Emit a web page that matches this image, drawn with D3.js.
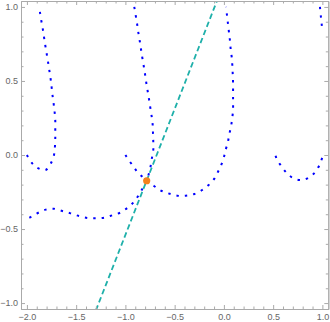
<!DOCTYPE html>
<html>
<head>
<meta charset="utf-8">
<script src="https://cdn.jsdelivr.net/npm/d3@7"></script>
<style>
  body { margin: 0; background: #fff; }
  .tick text { font-family: "Liberation Sans", Arial, sans-serif; font-size: 9px; fill: #666; }
</style>
</head>
<body>
<div id="chart"></div>
<script>
// contour curves (x, y pairs)
const curveA = [[-2.0,0.0],[-1.952,-0.052],[-1.895,-0.086],[-1.81,-0.101],[-1.759,-0.059],[-1.725,0.0],
  [-1.715,0.061],[-1.712,0.117],[-1.712,0.174],[-1.712,0.232],[-1.718,0.286],[-1.728,0.344],[-1.739,0.398],
  [-1.749,0.457],[-1.759,0.513],[-1.773,0.574],[-1.786,0.63],[-1.8,0.687],[-1.814,0.743],[-1.827,0.799],
  [-1.84,0.856],[-1.855,0.912],[-1.868,0.968],[-1.873,1.0]];

const curveB = [[-0.91,1.0],[-0.896,0.945],[-0.882,0.889],[-0.869,0.828],[-0.855,0.772],[-0.842,0.716],
  [-0.829,0.66],[-0.814,0.601],[-0.801,0.547],[-0.788,0.488],[-0.774,0.432],[-0.76,0.376],[-0.747,0.319],
  [-0.733,0.259],[-0.723,0.203],[-0.72,0.147],[-0.717,0.09],[-0.717,0.034],[-0.733,-0.029],[-0.747,-0.086],
  [-0.768,-0.14],[-0.784,-0.174],[-0.818,-0.216],[-0.859,-0.265],[-0.92,-0.322],[-0.977,-0.356],
  [-1.055,-0.39],[-1.133,-0.407],[-1.215,-0.423],[-1.302,-0.427],[-1.387,-0.425],[-1.472,-0.412],
  [-1.556,-0.394],[-1.641,-0.378],[-1.726,-0.363],[-1.81,-0.369],[-1.885,-0.39],[-1.962,-0.419],[-2.0,-0.432]];

const curveC = [[-1.0,0.0],[-0.93,-0.068],[-0.875,-0.117],[-0.818,-0.153],[-0.784,-0.174],[-0.71,-0.209],
  [-0.639,-0.241],[-0.564,-0.259],[-0.473,-0.275],[-0.388,-0.275],[-0.3,-0.263],[-0.225,-0.238],
  [-0.158,-0.205],[-0.097,-0.16],[-0.056,-0.108],[-0.022,-0.059],[0.004,-0.005],[0.012,0.022],
  [0.039,0.083],[0.055,0.14],[0.073,0.196],[0.086,0.255],[0.093,0.311],[0.093,0.367],[0.093,0.423],
  [0.093,0.484],[0.09,0.54],[0.086,0.601],[0.08,0.657],[0.069,0.714],[0.062,0.77],[0.052,0.826],
  [0.042,0.883],[0.032,0.939],[0.022,1.0]];

const curveD = [[0.975,1.0],[0.984,0.939],[0.993,0.882],[1.0,0.84]];

const curveE = [[0.525,-0.005],[0.537,-0.029],[0.584,-0.076],[0.641,-0.124],[0.705,-0.157],[0.794,-0.169],
  [0.875,-0.147],[0.936,-0.107],[0.977,-0.058],[1.0,-0.014]];

const curves = [curveA, curveB, curveC, curveD, curveE];

// dashed line and the marked point
const lineEnds = [[-1.30, -1.05], [-0.065, 1.05]];
const root = [-0.784, -0.174];

const xTicks = [-2.0, -1.5, -1.0, -0.5, 0.0, 0.5, 1.0];
const yTicks = [-1.0, -0.5, 0.0, 0.5, 1.0];

const width = 330, height = 322;
const margin = {top: 1, right: 1.7, bottom: 13, left: 21};

const x = d3.scaleLinear().domain([-2.06, 1.06]).range([margin.left, width - margin.right]);
const y = d3.scaleLinear().domain([-1.04, 1.04]).range([height - margin.bottom, margin.top]);

const svg = d3.select("#chart").append("svg")
  .attr("width", width)
  .attr("height", height);

svg.append("defs").append("clipPath").attr("id", "clip")
  .append("rect")
  .attr("x", x.range()[0]).attr("y", y.range()[1])
  .attr("width", x.range()[1] - x.range()[0])
  .attr("height", y.range()[0] - y.range()[1]);

const plot = svg.append("g").attr("clip-path", "url(#clip)");

const line = d3.line()
  .x(d => x(d[0]))
  .y(d => y(d[1]))
  .curve(d3.curveCatmullRom);

plot.selectAll(".contour")
  .data(curves)
  .enter().append("path")
  .attr("class", "contour")
  .attr("d", line)
  .attr("fill", "none")
  .attr("stroke", "#0000ff")
  .attr("stroke-width", 2)
  .attr("stroke-dasharray", "2.4,6");

plot.append("path")
  .datum(lineEnds)
  .attr("d", d3.line().x(d => x(d[0])).y(d => y(d[1])))
  .attr("fill", "none")
  .attr("stroke", "#1fb0aa")
  .attr("stroke-width", 1.8)
  .attr("stroke-dasharray", "5.5,3.2");

plot.append("circle")
  .attr("cx", x(root[0]))
  .attr("cy", y(root[1]))
  .attr("r", 3.6)
  .attr("fill", "#f5821f");

// frame with inward ticks
const minorX = d3.range(-20, 11).map(d => d / 10).filter(d => !xTicks.some(t => Math.abs(t - d) < 1e-9));
const minorY = d3.range(-10, 11).map(d => d / 10).filter(d => !yTicks.some(t => Math.abs(t - d) < 1e-9));

function styleAxis(g) {
  g.select(".domain").attr("stroke", "#aaa");
  g.selectAll(".tick line").attr("stroke", "#aaa");
}

const fmt = d3.format(".1f");

svg.append("g")
  .attr("transform", `translate(0,${y.range()[0]})`)
  .call(d3.axisBottom(x).tickValues(xTicks).tickFormat(fmt).tickSizeInner(-4).tickSizeOuter(0).tickPadding(5))
  .call(styleAxis);
svg.append("g")
  .attr("transform", `translate(0,${y.range()[0]})`)
  .call(d3.axisBottom(x).tickValues(minorX).tickFormat("").tickSizeInner(-2.5).tickSizeOuter(0))
  .call(styleAxis);

svg.append("g")
  .attr("transform", `translate(${x.range()[0]},0)`)
  .call(d3.axisLeft(y).tickValues(yTicks).tickFormat(fmt).tickSizeInner(-4).tickSizeOuter(0).tickPadding(3))
  .call(styleAxis);
svg.append("g")
  .attr("transform", `translate(${x.range()[0]},0)`)
  .call(d3.axisLeft(y).tickValues(minorY).tickFormat("").tickSizeInner(-2.5).tickSizeOuter(0))
  .call(styleAxis);

svg.append("g")
  .attr("transform", `translate(0,${y.range()[1]})`)
  .call(d3.axisTop(x).tickValues(xTicks).tickFormat("").tickSizeInner(-4).tickSizeOuter(0))
  .call(styleAxis);
svg.append("g")
  .attr("transform", `translate(0,${y.range()[1]})`)
  .call(d3.axisTop(x).tickValues(minorX).tickFormat("").tickSizeInner(-2.5).tickSizeOuter(0))
  .call(styleAxis);

svg.append("g")
  .attr("transform", `translate(${x.range()[1]},0)`)
  .call(d3.axisRight(y).tickValues(yTicks).tickFormat("").tickSizeInner(-4).tickSizeOuter(0))
  .call(styleAxis);
svg.append("g")
  .attr("transform", `translate(${x.range()[1]},0)`)
  .call(d3.axisRight(y).tickValues(minorY).tickFormat("").tickSizeInner(-2.5).tickSizeOuter(0))
  .call(styleAxis);
</script>
</body>
</html>
